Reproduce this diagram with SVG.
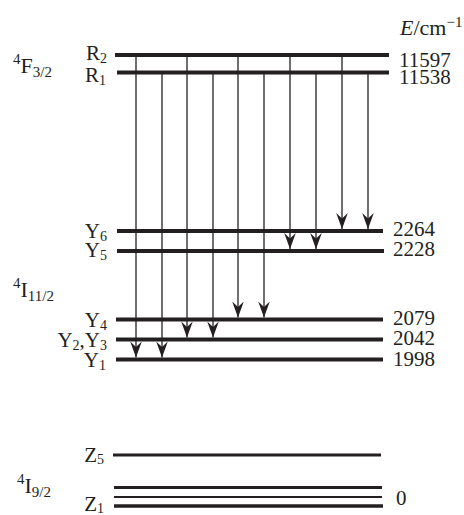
<svg xmlns="http://www.w3.org/2000/svg" width="464" height="515" viewBox="0 0 464 515">
<style>
text{font-family:"Liberation Serif","Times New Roman",serif;font-size:21px;fill:#231f20}
.sub{font-size:14px}
.big{font-size:22px}
.big .sub{font-size:15px}
.lvl{stroke:#231f20;stroke-width:4}
.tr{stroke:#231f20;stroke-width:1.3;fill:none}
</style>
<defs>
<marker id="ah" markerUnits="userSpaceOnUse" markerWidth="17" markerHeight="13" viewBox="-16 -6.5 17 13" refX="0" refY="0" orient="auto">
<path d="M0,0 L-16,-5.8 L-10.5,0 L-16,5.8 Z" fill="#231f20"/>
</marker>
</defs>
<rect width="464" height="515" fill="#fff"/>
<text x="400" y="35" class="big"><tspan font-style="italic">E</tspan>/cm<tspan class="sub" dy="-8">−1</tspan></text>
<g id="F32"><text class="big" x="13" y="73"><tspan class="sub" dy="-9">4</tspan><tspan dy="9">F</tspan><tspan class="sub" dy="4">3/2</tspan></text></g>
<g id="I112"><text class="big" x="13" y="297"><tspan class="sub" dy="-9">4</tspan><tspan dy="9">I</tspan><tspan class="sub" dy="4">11/2</tspan></text></g>
<g id="I92"><text class="big" x="17" y="493"><tspan class="sub" dy="-9">4</tspan><tspan dy="9">I</tspan><tspan class="sub" dy="4">9/2</tspan></text></g>
<g id="R2"><line class="lvl" x1="115" y1="55" x2="389" y2="55"/><text x="107" y="60" text-anchor="end">R<tspan class="sub" dy="3">2</tspan></text><text x="399" y="67">11597</text></g>
<g id="R1"><line class="lvl" x1="117" y1="72.5" x2="389" y2="72.5"/><text x="106" y="82" text-anchor="end">R<tspan class="sub" dy="3">1</tspan></text><text x="399" y="84">11538</text></g>
<g id="Y6"><line class="lvl" x1="117" y1="231" x2="383" y2="231"/><text x="107" y="238" text-anchor="end">Y<tspan class="sub" dy="3">6</tspan></text><text x="393" y="236">2264</text></g>
<g id="Y5"><line class="lvl" x1="117" y1="251" x2="384" y2="251"/><text x="107" y="257" text-anchor="end">Y<tspan class="sub" dy="3">5</tspan></text><text x="393" y="256">2228</text></g>
<g id="Y4"><line class="lvl" x1="116" y1="319.5" x2="383" y2="319.5"/><text x="107" y="327" text-anchor="end">Y<tspan class="sub" dy="3">4</tspan></text><text x="393" y="325">2079</text></g>
<g id="Y23"><line class="lvl" x1="116" y1="339.5" x2="383" y2="339.5"/><text x="107" y="347" text-anchor="end">Y<tspan class="sub" dy="3">2</tspan><tspan dy="-3">,Y</tspan><tspan class="sub" dy="3">3</tspan></text><text x="393" y="345">2042</text></g>
<g id="Y1"><line class="lvl" x1="116" y1="359.5" x2="383" y2="359.5"/><text x="106" y="367" text-anchor="end">Y<tspan class="sub" dy="3">1</tspan></text><text x="393" y="366">1998</text></g>
<g id="Z5"><line class="lvl" style="stroke-width:3" x1="113" y1="455" x2="381" y2="455"/><text x="104" y="462" text-anchor="end">Z<tspan class="sub" dy="2">5</tspan></text></g>
<g id="Z1"><line class="lvl" style="stroke-width:3" x1="114" y1="487.5" x2="382" y2="487.5"/><line class="lvl" style="stroke-width:2.2" x1="114" y1="497" x2="382" y2="497"/><line class="lvl" style="stroke-width:3.5" x1="114" y1="506" x2="383" y2="506"/><text x="104" y="511" text-anchor="end">Z<tspan class="sub" dy="2">1</tspan></text><text x="396" y="505">0</text></g>
<g id="connectors">
<line class="tr" x1="136" y1="55" x2="136" y2="357.5" marker-end="url(#ah)"/>
<line class="tr" x1="162" y1="72.5" x2="162" y2="357.5" marker-end="url(#ah)"/>
<line class="tr" x1="187" y1="55" x2="187" y2="337.5" marker-end="url(#ah)"/>
<line class="tr" x1="213" y1="72.5" x2="213" y2="337.5" marker-end="url(#ah)"/>
<line class="tr" x1="238" y1="55" x2="238" y2="317.5" marker-end="url(#ah)"/>
<line class="tr" x1="264" y1="72.5" x2="264" y2="317.5" marker-end="url(#ah)"/>
<line class="tr" x1="290" y1="55" x2="290" y2="249" marker-end="url(#ah)"/>
<line class="tr" x1="316" y1="72.5" x2="316" y2="249" marker-end="url(#ah)"/>
<line class="tr" x1="342" y1="55" x2="342" y2="229" marker-end="url(#ah)"/>
<line class="tr" x1="368" y1="72.5" x2="368" y2="229" marker-end="url(#ah)"/>
</g>
</svg>
